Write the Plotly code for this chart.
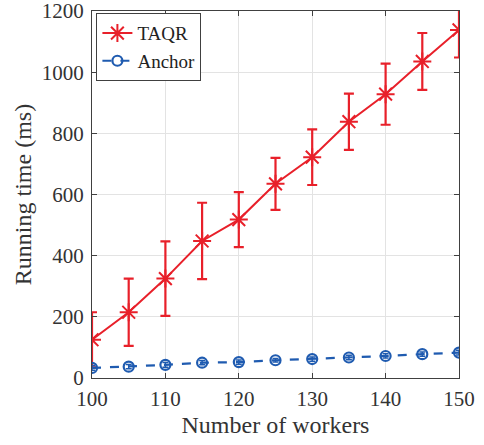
import plotly.graph_objects as go

workers = [100, 105, 110, 115, 120, 125, 130, 135, 140, 145, 150]
taqr = [125, 215, 325, 448, 518, 635, 722, 838, 928, 1035, 1138]
taqr_err = [90, 110, 122, 125, 90, 85, 91, 92, 100, 93, 90]
anchor = [33, 37, 43, 50, 52, 58, 62, 67, 72, 78, 83]
anchor_err = [8, 7, 8, 7, 7, 6, 7, 7, 7, 7, 8]

red = "#E8202A"
blue = "#1F5BB0"
font = "Liberation Serif"

fig = go.Figure()
fig.add_trace(go.Scatter(
    x=workers, y=taqr, name="TAQR", mode="lines+markers",
    line=dict(color=red, width=2),
    marker=dict(symbol="asterisk-open", size=15, line=dict(color=red, width=2)),
    error_y=dict(type="data", array=taqr_err, color=red, thickness=2.2, width=5),
))
fig.add_trace(go.Scatter(
    x=workers, y=anchor, name="Anchor", mode="lines+markers",
    line=dict(color=blue, width=2.2, dash="dash"),
    marker=dict(symbol="circle-open", size=10, line=dict(color=blue, width=2.2)),
    error_y=dict(type="data", array=anchor_err, color=blue, thickness=1.5, width=3),
))

axis_common = dict(
    showline=True, linecolor="#404040", linewidth=1, mirror="ticks",
    ticks="inside", ticklen=5, tickcolor="#404040",
    showgrid=True, gridcolor="#E3E3E3", gridwidth=1,
    zeroline=False, automargin=False, ticklabeloverflow="allow",
    tickfont=dict(family=font, size=21, color="#333333"),
    title_font=dict(family=font, size=24, color="#333333"),
)

fig.update_layout(
    width=484, height=445,
    margin=dict(l=92, r=25, t=11, b=67),
    paper_bgcolor="white", plot_bgcolor="white",
    xaxis=dict(range=[100, 150], tickvals=[100, 110, 120, 130, 140, 150],
               ticklabelstandoff=2,
               title=dict(text="Number of workers", standoff=5), **axis_common),
    yaxis=dict(range=[0, 1200], tickvals=[0, 200, 400, 600, 800, 1000, 1200],
               ticklabelstandoff=3,
               title=dict(text="Running time (ms)", standoff=3), **axis_common),
    legend=dict(x=0.012, y=0.994, xanchor="left", yanchor="top",
                bgcolor="white", bordercolor="#404040", borderwidth=1,
                font=dict(family=font, size=19, color="#222222"),
                tracegroupgap=0, itemwidth=30),
    showlegend=True,
)

fig.write_html("out.html", config={"displayModeBar": False},
               post_script="document.body.style.margin='0';")
